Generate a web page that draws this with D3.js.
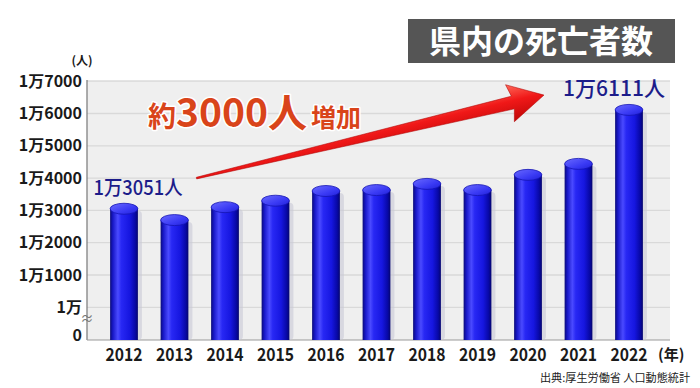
<!DOCTYPE html>
<html>
<head>
<meta charset="utf-8">
<script src="https://cdn.jsdelivr.net/npm/d3@7"></script>
<style>
  body { margin: 0; background: #fff; }
  text { font-family: "Noto Sans CJK JP", "Noto Sans", sans-serif; }
</style>
</head>
<body>
<div id="chart"></div>
<script>
// data
var years = ["2012", "2013", "2014", "2015", "2016", "2017", "2018", "2019", "2020", "2021", "2022"];
var deaths = [13051, 12700, 13100, 13300, 13600, 13630, 13820, 13630, 14100, 14440, 16111];
var yTicks = [0, 10000, 11000, 12000, 13000, 14000, 15000, 16000, 17000];

var W = 700, H = 388;
// plot area
var plot = {left: 87, right: 670, top: 80, bottom: 340};

var svg = d3.select("#chart")
    .append("svg")
    .attr("width", W)
    .attr("height", H);

var defs = svg.append("defs");

// cylinder body gradient
var g1 = defs.append("linearGradient").attr("id", "cyl")
    .attr("x1", "0%").attr("x2", "100%").attr("y1", "0%").attr("y2", "0%");
[[0, "#0b0b78"], [0.1, "#1818c8"], [0.28, "#4a4aff"], [0.4, "#2828f4"], [0.7, "#1616e0"], [0.9, "#0808a6"], [1, "#05056e"]]
  .forEach(function(s) { g1.append("stop").attr("offset", s[0]).attr("stop-color", s[1]); });

// cylinder top gradient
var g2 = defs.append("linearGradient").attr("id", "cylTop")
    .attr("x1", "0%").attr("x2", "100%").attr("y1", "0%").attr("y2", "100%");
[[0, "#6a6aff"], [0.6, "#3a3af4"], [1, "#2020d8"]]
  .forEach(function(s) { g2.append("stop").attr("offset", s[0]).attr("stop-color", s[1]); });

// arrow gradient
var g3 = defs.append("linearGradient").attr("id", "arrowGrad")
    .attr("x1", "0%").attr("x2", "0%").attr("y1", "0%").attr("y2", "100%");
[[0, "#ff6a5a"], [0.45, "#f01818"], [1, "#c00808"]]
  .forEach(function(s) { g3.append("stop").attr("offset", s[0]).attr("stop-color", s[1]); });

// scales
var x = d3.scaleBand()
    .domain(years)
    .range([98.75, 654.25])
    .paddingInner(0.45)
    .paddingOuter(0.225);

var y = d3.scaleLinear()
    .domain([0, 10000, 17000])
    .range([plot.bottom, 307.3, 81.2]);

// plot background
svg.append("rect")
    .attr("x", plot.left).attr("y", plot.top)
    .attr("width", plot.right - plot.left)
    .attr("height", plot.bottom - plot.top)
    .style("fill", "#efefef");

// grid lines
svg.append("g")
  .selectAll("line")
  .data(yTicks.filter(function(d) { return d > 0; }))
  .enter().append("line")
    .attr("x1", plot.left).attr("x2", plot.right)
    .attr("y1", function(d) { return y(d); })
    .attr("y2", function(d) { return y(d); })
    .style("stroke", "#d9d9d9")
    .style("stroke-width", 1.3);

// Y axis
var yAxis = svg.append("g")
    .attr("transform", "translate(" + plot.left + ",0)")
    .call(d3.axisLeft(y).tickValues(yTicks).tickSize(0).tickPadding(5)
      .tickFormat(function(d) {
        if (d === 0) return "0";
        if (d === 10000) return "1万";
        return "1万" + (d - 10000);
      }));
yAxis.select(".domain").remove();
yAxis.selectAll("text")
    .style("font-size", "16px")
    .style("font-weight", "bold")
    .style("fill", "#1a1a1a")
    .attr("dy", function(d) { return d === 0 ? "0em" : "0.32em"; });

svg.append("line")
    .attr("x1", plot.left).attr("x2", plot.left)
    .attr("y1", plot.top).attr("y2", plot.bottom)
    .style("stroke", "#777").style("stroke-width", 1.2);

// axis break mark
svg.append("text")
    .attr("x", plot.left).attr("y", 323)
    .attr("text-anchor", "middle")
    .style("font-size", "13px")
    .style("fill", "#777")
    .text("≈");

svg.append("text")
    .attr("x", 82).attr("y", 65)
    .attr("text-anchor", "middle")
    .style("font-size", "12px")
    .style("font-weight", "bold")
    .style("fill", "#1a1a1a")
    .text("(人)");

// X axis
var xAxis = svg.append("g")
    .attr("transform", "translate(0," + plot.bottom + ")")
    .call(d3.axisBottom(x).tickSize(0).tickPadding(8));
xAxis.select(".domain").remove();
xAxis.selectAll("text")
    .style("font-size", "18px")
    .style("font-weight", "bold")
    .style("fill", "#1a1a1a")
    .attr("textLength", 37)
    .attr("lengthAdjust", "spacingAndGlyphs");

svg.append("line")
    .attr("x1", plot.left).attr("x2", plot.right)
    .attr("y1", plot.bottom).attr("y2", plot.bottom)
    .style("stroke", "#999").style("stroke-width", 1.2);

svg.append("text")
    .attr("x", plot.right - 12).attr("y", 360)
    .style("font-size", "15px")
    .style("font-weight", "bold")
    .style("fill", "#1a1a1a")
    .text("(年)");

// bars (cylinders)
var ry = 5.5;
var bars = svg.append("g").selectAll("g")
    .data(years.map(function(d, i) { return {year: d, value: deaths[i]}; }))
    .enter().append("g");

bars.append("rect")
    .attr("x", function(d) { return x(d.year) + 2; })
    .attr("y", function(d) { return y(d.value) + 2; })
    .attr("width", x.bandwidth() + 2)
    .attr("height", function(d) { return plot.bottom - y(d.value) - 2; })
    .attr("rx", 4)
    .style("fill", "#c8c8d6")
    .style("opacity", 0.6);

bars.append("rect")
    .attr("x", function(d) { return x(d.year); })
    .attr("y", function(d) { return y(d.value); })
    .attr("width", x.bandwidth())
    .attr("height", function(d) { return plot.bottom - y(d.value); })
    .style("fill", "url(#cyl)");

bars.append("ellipse")
    .attr("cx", function(d) { return x(d.year) + x.bandwidth() / 2; })
    .attr("cy", function(d) { return y(d.value); })
    .attr("rx", x.bandwidth() / 2)
    .attr("ry", ry)
    .style("fill", "url(#cylTop)")
    .style("stroke", "#1414b4")
    .style("stroke-width", 0.8);

// value labels
var first = 0, last = years.length - 1;
svg.append("text")
    .attr("x", x(years[first]) + x.bandwidth() / 2 + 14)
    .attr("y", y(deaths[first]) - 14)
    .attr("text-anchor", "middle")
    .attr("textLength", 89)
    .attr("lengthAdjust", "spacingAndGlyphs")
    .style("font-size", "20px")
    .style("font-weight", "500")
    .style("fill", "#1c1c8a")
    .text("1万3051人");

svg.append("text")
    .attr("x", x(years[last]) + x.bandwidth() / 2 - 15)
    .attr("y", y(deaths[last]) - 14)
    .attr("text-anchor", "middle")
    .attr("textLength", 102)
    .attr("lengthAdjust", "spacingAndGlyphs")
    .style("font-size", "21px")
    .style("font-weight", "500")
    .style("fill", "#1c1c8a")
    .text("1万6111人");

// red arrow: from the 2013 slot up to the 2020 slot
var tail = [x("2013") + x.bandwidth() / 2 + 22, y(14000)];
var tip = [x("2020") + x.bandwidth() / 2 + 16, y(16570)];
var dx = tip[0] - tail[0], dy = tip[1] - tail[1];
var len = Math.sqrt(dx * dx + dy * dy);
var ang = Math.atan2(dy, dx) * 180 / Math.PI;
var headLen = 32, headW = 19, shaftW = 6.5;
var arrowPts = [
  [0, -0.8], [len - headLen, -shaftW], [len - headLen - 3, -headW],
  [len, 0],
  [len - headLen - 3, headW], [len - headLen, shaftW], [0, 0.8]
];
svg.append("path")
    .attr("transform", "translate(" + tail[0] + "," + tail[1] + ") rotate(" + ang + ")")
    .attr("d", d3.line()(arrowPts) + "Z")
    .style("fill", "url(#arrowGrad)")
    .style("stroke", "#b00000")
    .style("stroke-width", 0.5);

// annotation text
var note = svg.append("text")
    .attr("x", 148).attr("y", 127)
    .style("fill", "#d9441a")
    .style("font-weight", "bold")
    .style("stroke", "#ffffff")
    .style("stroke-width", 3)
    .style("paint-order", "stroke")
    .style("stroke-linejoin", "round");
note.append("tspan").style("font-size", "28px").text("約");
note.append("tspan").style("font-size", "39px").text("3000人");
note.append("tspan").attr("dx", 4).style("font-size", "25px").text("増加");

// title box
svg.append("rect")
    .attr("x", 408).attr("y", 19)
    .attr("width", 267).attr("height", 44)
    .style("fill", "#555555");
svg.append("text")
    .attr("x", 541).attr("y", 53)
    .attr("text-anchor", "middle")
    .style("font-size", "32px")
    .style("font-weight", "bold")
    .style("fill", "#ffffff")
    .text("県内の死亡者数");

// source
svg.append("text")
    .attr("x", 690).attr("y", 382)
    .attr("text-anchor", "end")
    .attr("textLength", 150)
    .attr("lengthAdjust", "spacingAndGlyphs")
    .style("font-size", "11px")
    .style("fill", "#222")
    .text("出典:厚生労働省 人口動態統計");
</script>
</body>
</html>
